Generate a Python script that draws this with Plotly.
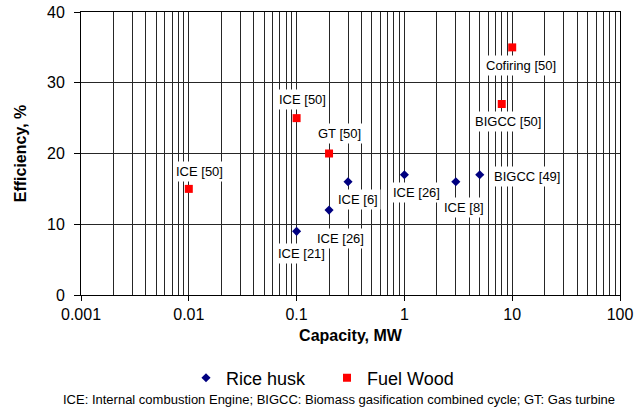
import math
import plotly.graph_objects as go

# ---- data ----
rice_capacity = [0.1, 0.2, 0.3, 1, 3, 5]
rice_efficiency = [9, 12, 16, 17, 16, 17]
rice_labels = ["ICE [21]", "ICE [26]", "ICE [6]", "ICE [26]", "ICE [8]", "BIGCC [49]"]

wood_capacity = [0.01, 0.1, 0.2, 8, 10]
wood_efficiency = [15, 25, 20, 27, 35]
wood_labels = ["ICE [50]", "ICE [50]", "GT [50]", "BIGCC [50]", "Cofiring [50]"]

x_tickvals = [0.001, 0.01, 0.1, 1, 10, 100]
x_ticktext = ["0.001", "0.01", "0.1", "1", "10", "100"]
y_tickvals = [0, 10, 20, 30, 40]

footnote = "ICE: Internal combustion Engine; BIGCC: Biomass gasification combined cycle; GT: Gas turbine"

# label pixel offsets (style)
rice_offsets = [(5, -22), (11, -28), (10, -18), (12, -18), (8, -26), (47, -2)]
wood_offsets = [(11, 17), (6, 19), (10, 20), (6, -18), (9, -18)]

FONT = "Liberation Sans"
GRID = "#262626"
W, H = 643, 415

fig = go.Figure()
fig.add_trace(go.Scatter(
    x=rice_capacity, y=rice_efficiency, mode="markers", name="Rice husk",
    marker=dict(symbol="diamond", size=7, color="#000080"),
))
fig.add_trace(go.Scatter(
    x=wood_capacity, y=wood_efficiency, mode="markers", name="Fuel Wood",
    marker=dict(symbol="square", size=8, color="#FF0000"),
))

annotations = []
for xs, ys, labs, offs in ((rice_capacity, rice_efficiency, rice_labels, rice_offsets),
                           (wood_capacity, wood_efficiency, wood_labels, wood_offsets)):
    for xv, yv, lab, (dx, dy) in zip(xs, ys, labs, offs):
        annotations.append(dict(
            x=math.log10(xv), y=yv, xref="x", yref="y", text=lab, showarrow=False,
            xshift=dx, yshift=dy, bgcolor="white", borderpad=2,
            font=dict(family=FONT, size=13, color="black"),
        ))

annotations.append(dict(
    x=(338.5 - 81) / 539, y=(295 - 399) / 283, xref="paper", yref="paper",
    xanchor="center", yanchor="middle",
    text=footnote, showarrow=False, font=dict(family=FONT, size=13, color="black"),
))

minor_vals = [m * 10 ** e for e in range(-3, 2) for m in range(2, 10)]

fig.update_layout(
    width=W, height=H,
    margin=dict(l=81, r=23, t=12, b=120),
    paper_bgcolor="white", plot_bgcolor="white",
    font=dict(family=FONT, size=16, color="black"),
    showlegend=True,
    legend=dict(orientation="h", xref="container", yref="container",
                x=186 / W, xanchor="left",
                y=1 - 378 / H, yanchor="middle", font=dict(family=FONT, size=18),
                entrywidth=96, entrywidthmode="pixels"),
    annotations=annotations,
    xaxis=dict(
        type="log", range=[-3, 2], automargin=False,
        tickvals=x_tickvals, ticktext=x_ticktext,
        ticks="outside", ticklen=5, tickcolor="black",
        showline=True, linecolor="black", linewidth=1, mirror=True,
        showgrid=True, gridcolor=GRID, gridwidth=1,
        minor=dict(tickvals=minor_vals, showgrid=True, gridcolor=GRID, gridwidth=1, ticks=""),
        tickfont=dict(family=FONT, size=16), ticklabeloverflow="allow",
        title=dict(text="<b>Capacity, MW</b>", font=dict(family=FONT, size=16), standoff=7),
        zeroline=False,
    ),
    yaxis=dict(
        range=[0, 40], automargin=False, tickvals=y_tickvals,
        ticks="outside", ticklen=6, tickcolor="black",
        showline=True, linecolor="black", linewidth=1, mirror=True,
        showgrid=True, gridcolor=GRID, gridwidth=1,
        tickfont=dict(family=FONT, size=16), ticklabelstandoff=6,
        ticklabeloverflow="allow",
        title=dict(text="<b>Efficiency, %</b>", font=dict(family=FONT, size=16), standoff=16),
        zeroline=False,
    ),
)

fig.write_html("out.html", config={"displayModeBar": False},
               post_script="document.body.style.margin='0';")
